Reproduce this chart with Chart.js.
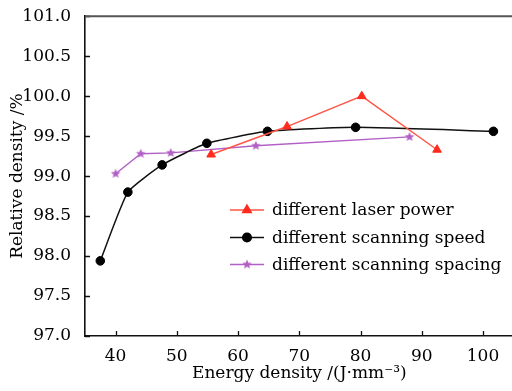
<!DOCTYPE html>
<html>
<head>
<meta charset="utf-8">
<script src="https://cdn.jsdelivr.net/npm/chart.js@4.4.1/dist/chart.umd.min.js"></script>
<style>
  html, body { margin: 0; padding: 0; background: #fff; overflow: hidden; }
  #wrap { width: 520px; height: 391px; }
</style>
</head>
<body>
<div id="wrap"><canvas id="densityChart"></canvas></div>
<script>
// energy density (J/mm^3) vs relative density (%)
const laserPowerX = [55.6, 68.0, 80.2, 92.5];
const laserPowerY = [99.27, 99.62, 100.0, 99.33];
const scanSpeedX = [37.5, 42.0, 47.6, 54.9, 64.8, 79.2, 101.7];
const scanSpeedY = [97.94, 98.80, 99.14, 99.41, 99.56, 99.61, 99.56];
const scanSpacingX = [40.0, 44.1, 49.0, 62.9, 88.0];
const scanSpacingY = [99.03, 99.28, 99.29, 99.38, 99.49];
const seriesNames = ['different laser power', 'different scanning speed', 'different scanning spacing'];
const xTicks = [40, 50, 60, 70, 80, 90, 100];
const yTicks = [97.0, 97.5, 98.0, 98.5, 99.0, 99.5, 100.0, 100.5, 101.0];

const FONT = "'DejaVu Serif', serif";
const RED = '#ff2b1e', RED_LINE = '#ff5546';
const PURPLE = '#b25fc6';

const toPoints = (xs, ys) => xs.map((x, i) => ({ x: x, y: ys[i] }));

// filled five-point star used as a point image
function makeStar(r, color) {
    const c = document.createElement('canvas');
    c.width = c.height = r * 2 + 2;
    const g = c.getContext('2d');
    g.fillStyle = color;
    g.beginPath();
    for (let i = 0; i < 10; i++) {
        const rad = i % 2 === 0 ? r : r * 0.45;
        const a = -Math.PI / 2 + i * Math.PI / 5;
        g.lineTo(c.width / 2 + rad * Math.cos(a), c.height / 2 + rad * Math.sin(a));
    }
    g.closePath();
    g.fill();
    return c;
}
const starImg = makeStar(5, PURPLE);

// inward tick marks, top frame line and the legend
const framePlugin = {
    id: 'frame',
    afterDraw(chart) {
        const { ctx, chartArea: a, scales: { x, y } } = chart;
        ctx.save();
        ctx.strokeStyle = '#111';
        ctx.lineWidth = 1.3;
        ctx.beginPath();
        xTicks.forEach(v => {
            const px = Math.round(x.getPixelForValue(v)) + 0.5;
            ctx.moveTo(px, a.bottom); ctx.lineTo(px, a.bottom - 5);
        });
        yTicks.forEach(v => {
            const py = Math.round(y.getPixelForValue(v)) + 0.5;
            ctx.moveTo(a.left, py); ctx.lineTo(a.left + 5, py);
        });
        ctx.stroke();

        ctx.strokeStyle = '#555';
        ctx.lineWidth = 2;
        ctx.beginPath();
        ctx.moveTo(a.left, a.top); ctx.lineTo(a.right, a.top);
        ctx.stroke();

        // legend
        const lx0 = 230, lx1 = 264, rows = [210, 237.5, 264.5];
        ctx.font = '17px ' + FONT;
        ctx.textBaseline = 'middle';
        chart.data.datasets.forEach((ds, i) => {
            const yy = rows[i];
            ctx.strokeStyle = ds.borderColor;
            ctx.lineWidth = ds.borderWidth;
            ctx.beginPath();
            ctx.moveTo(lx0, yy); ctx.lineTo(lx1, yy);
            ctx.stroke();
            ctx.fillStyle = ds.pointBackgroundColor;
            ctx.strokeStyle = ds.pointBackgroundColor;
            Chart.helpers.drawPoint(ctx, {
                pointStyle: ds.pointStyle, radius: ds.pointRadius, rotation: 0, borderWidth: 1
            }, (lx0 + lx1) / 2, yy);
            ctx.fillStyle = '#000';
            ctx.fillText(ds.label, 272, yy + 1);
        });
        ctx.restore();
    }
};

new Chart(document.getElementById('densityChart'), {
    type: 'scatter',
    data: {
        datasets: [
            {
                label: seriesNames[0],
                data: toPoints(laserPowerX, laserPowerY),
                showLine: true,
                borderColor: RED_LINE,
                borderWidth: 1.4,
                pointStyle: 'triangle',
                pointRadius: 5,
                pointBackgroundColor: RED,
                pointBorderColor: RED,
                pointBorderWidth: 1
            },
            {
                label: seriesNames[1],
                data: toPoints(scanSpeedX, scanSpeedY),
                showLine: true,
                borderColor: '#111',
                borderWidth: 1.5,
                tension: 0.15,
                pointStyle: 'circle',
                pointRadius: 4.3,
                pointBackgroundColor: '#000',
                pointBorderColor: '#000',
                pointBorderWidth: 1
            },
            {
                label: seriesNames[2],
                data: toPoints(scanSpacingX, scanSpacingY),
                showLine: true,
                borderColor: PURPLE,
                borderWidth: 1.4,
                pointStyle: starImg,
                pointRadius: 5,
                pointBackgroundColor: PURPLE,
                pointBorderColor: PURPLE
            }
        ]
    },
    options: {
        responsive: true,
        maintainAspectRatio: false,
        animation: false,
        layout: { padding: { top: 15, right: 5, left: 0, bottom: 0 } },
        plugins: { legend: { display: false }, tooltip: { enabled: false } },
        scales: {
            x: {
                type: 'linear',
                min: 35,
                max: 105,
                afterFit: s => { s.height = 55; },
                afterBuildTicks: s => { s.ticks = xTicks.map(v => ({ value: v })); },
                grid: { display: false },
                border: { display: true, color: '#111', width: 1.6 },
                ticks: { color: '#000', padding: 2, font: { family: FONT, size: 17 } },
                title: {
                    display: true,
                    text: 'Energy density /(J\u00b7mm\u207b\u00b3)',
                    color: '#000',
                    padding: { top: 0, bottom: 7 },
                    font: { family: FONT, size: 17 }
                }
            },
            y: {
                type: 'linear',
                min: 97,
                max: 101,
                afterFit: s => { s.width = 85; },
                afterBuildTicks: s => { s.ticks = yTicks.map(v => ({ value: v })); },
                grid: { display: false },
                border: { display: true, color: '#111', width: 1.6 },
                ticks: {
                    color: '#000', padding: 6, font: { family: FONT, size: 17 },
                    callback: v => Number(v).toFixed(1)
                },
                title: {
                    display: true,
                    text: 'Relative density /%',
                    color: '#000',
                    padding: { top: 7, bottom: 0 },
                    font: { family: FONT, size: 17 }
                }
            }
        }
    },
    plugins: [framePlugin]
});
</script>
</body>
</html>
